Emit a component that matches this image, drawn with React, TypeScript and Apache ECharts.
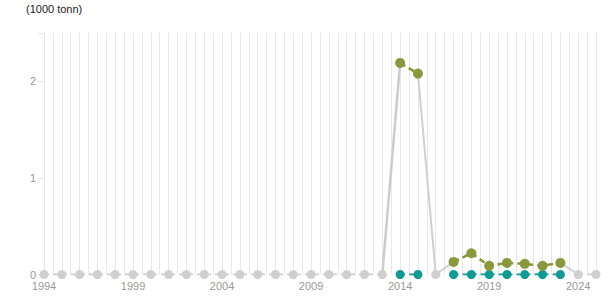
import React, { useEffect, useRef } from "react";
import * as echarts from "echarts";

const years: number[] = Array.from({ length: 32 }, (_, i) => 1994 + i);
const tickYears = [1994, 1999, 2004, 2009, 2014, 2019, 2024];
const yTicks = [0, 1, 2];
const unitLabel = "(1000 tonn)";

// olive series (values per year, null = no point)
const oliveValues: (number | null)[] = [
  null, null, null, null, null, null, null, null, null, null,
  null, null, null, null, null, null, null, null, null, null,
  2.19, 2.08, null, 0.13, 0.22, 0.09, 0.12, 0.11, 0.09, 0.12,
  null, null,
];
// teal series
const tealValues: (number | null)[] = [
  null, null, null, null, null, null, null, null, null, null,
  null, null, null, null, null, null, null, null, null, null,
  0, 0, null, 0, 0, 0, 0, 0, 0, 0,
  null, null,
];
// grey (zero) series
const greyValues: (number | null)[] = [
  0, 0, 0, 0, 0, 0, 0, 0, 0, 0,
  0, 0, 0, 0, 0, 0, 0, 0, 0, 0,
  null, null, 0, null, null, null, null, null, null, null,
  0, 0,
];
// grey connector (total) segments
const connectorValues: (number | null)[] = [
  null, null, null, null, null, null, null, null, null, null,
  null, null, null, null, null, null, null, null, null, 0,
  2.19, null, null, null, null, null, null, null, null, null,
  null, null,
];
const connector2Values: (number | null)[] = [
  null, null, null, null, null, null, null, null, null, null,
  null, null, null, null, null, null, null, null, null, null,
  null, 2.08, 0, 0.13, null, null, null, null, null, 0.12,
  0, null,
];

const pairs = (vals: (number | null)[]) =>
  years.map((y, i) => [y, vals[i] === null ? null : vals[i]]);

export default function App() {
  const ref = useRef<HTMLDivElement>(null);
  useEffect(() => {
    if (!ref.current) return;
    const chart = echarts.init(ref.current, undefined, { renderer: "svg" });
    const font = "Arial, 'Liberation Sans', sans-serif";
    chart.setOption({
      animation: false,
      textStyle: { fontFamily: font },
      title: {
        text: unitLabel,
        left: 26,
        top: 3,
        padding: 0,
        textStyle: { fontSize: 11, fontWeight: "normal", color: "#222", fontFamily: font },
      },
      grid: { left: 44, right: 19, top: 33, bottom: 30.5 },
      xAxis: {
        type: "value",
        min: years[0],
        max: years[years.length - 1],
        interval: 1,
        axisLine: { show: false },
        axisTick: { show: false },
        axisLabel: {
          color: "#999",
          fontSize: 11,
          margin: 6,
          showMaxLabel: true,
          formatter: (v: number) => (tickYears.includes(v) ? String(v) : ""),
        },
        splitLine: { show: true, lineStyle: { color: "#e8e8e8", width: 1 } },
        minorTick: { show: false, splitNumber: 2 },
        minorSplitLine: { show: true, lineStyle: { color: "#e8e8e8", width: 1 } },
      },
      yAxis: {
        type: "value",
        min: 0,
        max: 2.5,
        interval: 1,
        axisLine: { show: true, lineStyle: { color: "#e6e6e6" } },
        axisTick: { show: true, length: 6, lineStyle: { color: "#e6e6e6" } },
        splitLine: { show: false },
        axisLabel: {
          color: "#999",
          fontSize: 11,
          margin: 8,
          formatter: (v: number) => (yTicks.includes(v) ? String(v) : ""),
        },
      },
      series: [
        {
          type: "line",
          data: pairs(connectorValues),
          symbol: "none",
          lineStyle: { color: "#cccccc", width: 2.5 },
          connectNulls: false,
          z: 1,
        },
        {
          type: "line",
          data: pairs(connector2Values),
          symbol: "none",
          lineStyle: { color: "#d0d0d0", width: 2 },
          connectNulls: false,
          z: 1,
        },
        {
          type: "line",
          data: pairs(greyValues),
          symbol: "circle",
          symbolSize: 9,
          itemStyle: { color: "#cfcfcf" },
          lineStyle: { color: "#cfcfcf", width: 2, type: [5, 4] },
          connectNulls: false,
          z: 2,
        },
        {
          type: "line",
          data: pairs(tealValues),
          symbol: "circle",
          symbolSize: 9,
          itemStyle: { color: "#109a93" },
          lineStyle: { color: "#109a93", width: 2, type: [5, 4] },
          connectNulls: false,
          z: 3,
        },
        {
          type: "line",
          data: pairs(oliveValues),
          symbol: "circle",
          symbolSize: 10,
          itemStyle: { color: "#8a973c" },
          lineStyle: { color: "#8a973c", width: 2.5, type: [6, 4] },
          connectNulls: false,
          z: 4,
        },
      ],
    });
    return () => chart.dispose();
  }, []);
  return <div ref={ref} style={{ width: 615, height: 305, position: "absolute", left: 0, top: 0 }} />;
}
